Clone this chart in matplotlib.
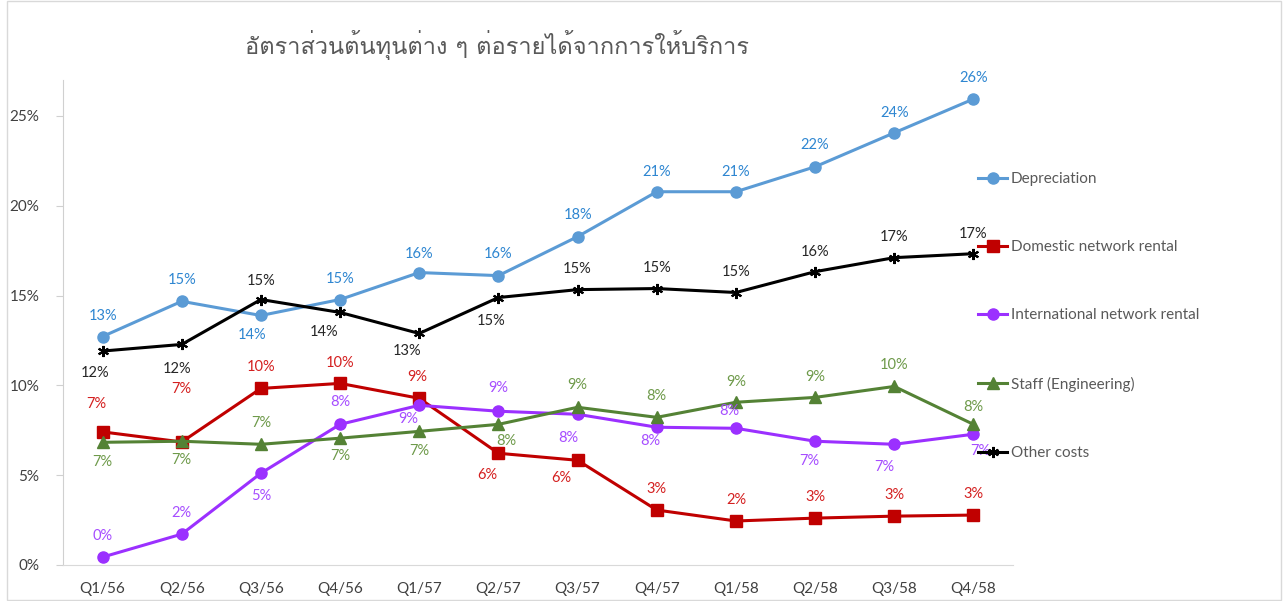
import matplotlib
matplotlib.use("Agg")
import matplotlib.pyplot as plt
from matplotlib import font_manager
from matplotlib.ft2font import FT2Font
from matplotlib.patches import Rectangle


def find_thai_font():
    for f in font_manager.fontManager.ttflist:
        try:
            cmap = FT2Font(f.fname).get_charmap()
        except Exception:
            continue
        if 0x0E2D in cmap and 0x0E15 in cmap:
            return f.name
    return "DejaVu Sans"


quarters = ["Q1/56", "Q2/56", "Q3/56", "Q4/56", "Q1/57", "Q2/57",
            "Q3/57", "Q4/57", "Q1/58", "Q2/58", "Q3/58", "Q4/58"]

depreciation = [12.72, 14.68, 13.89, 14.78, 16.28, 16.11, 18.28, 20.78, 20.78, 22.17, 24.06, 25.94]
domestic = [7.41, 6.85, 9.83, 10.11, 9.28, 6.22, 5.83, 3.06, 2.45, 2.61, 2.72, 2.78]
international = [0.44, 1.72, 5.11, 7.83, 8.89, 8.56, 8.39, 7.67, 7.61, 6.89, 6.72, 7.28]
staff = [6.83, 6.89, 6.72, 7.06, 7.44, 7.83, 8.78, 8.22, 9.06, 9.33, 9.94, 7.83]
other = [11.91, 12.28, 14.78, 14.06, 12.89, 14.89, 15.33, 15.39, 15.17, 16.33, 17.11, 17.33]

title = "อัตราส่วนต้นทุนต่าง ๆ ต่อรายได้จากการให้บริการ"

# label offsets in pixels (dx, dy), dy positive = above the point
lab_dep = [(0, 21), (0, 21), (-9, -20), (0, 21), (0, 19), (0, 22), (0, 22), (0, 20), (0, 20), (0, 22), (0, 20), (0, 21)]
lab_dom = [(-6, 28), (0, 53), (0, 21), (0, 20), (-2, 21), (-11, -22), (-16, -18), (0, 21), (0, 21), (0, 21), (0, 21), (0, 21)]
lab_int = [(0, 21), (0, 21), (0, -23), (0, 22), (-11, -14), (0, 23), (-9, -24), (-6, -14), (-7, 17), (-6, -20), (-10, -23), (7, -17)]
lab_stf = [(0, -20), (0, -19), (0, 21), (0, -18), (0, -20), (8, -17), (0, 22), (0, 21), (0, 20), (0, 20), (0, 21), (0, 17)]
lab_oth = [(-8, -22), (-5, -25), (0, 19), (-16, -20), (-12, -18), (-7, -23), (0, 21), (0, 21), (0, 21), (0, 20), (0, 21), (0, 20)]

series = [
    ("Depreciation", depreciation, "#5B9BD5", "#2E86D1", "o", 8, lab_dep),
    ("Domestic network rental", domestic, "#C00000", "#D42020", "s", 8, lab_dom),
    ("International network rental", international, "#9B30FF", "#A64DFF", "o", 8, lab_int),
    ("Staff (Engineering)", staff, "#548235", "#6E9A4A", "^", 8, lab_stf),
    ("Other costs", other, "#000000", "#262626", (6, 2, 0), 8, lab_oth),
]

thai = find_thai_font()
plt.rcParams["font.family"] = ["Lato", "DejaVu Sans"]

fig = plt.figure(figsize=(12.84, 6.01), dpi=100)
ax = fig.add_axes([63 / 1284, 1 - 565 / 601, (1013 - 63) / 1284, (565 - 80) / 601])

x = list(range(len(quarters)))
px = 72 / 100
for name, vals, col, lcol, mk, ms, offs in series:
    y = [v / 100 for v in vals]
    ax.plot(x, y, color=col, lw=2.2, marker=mk, markersize=ms,
            markeredgewidth=1.5 if mk == (6, 2, 0) else 1, label=name, zorder=3)
    for xi, yi, v, (dx, dy) in zip(x, y, vals, offs):
        ax.annotate("%d%%" % round(v), (xi, yi), xytext=(dx * px, dy * px),
                    textcoords="offset points", ha="center", va="center",
                    fontsize=10.5, color=lcol, zorder=4)

ax.set_xlim(-0.5, 11.5)
ax.set_ylim(0, 0.27)
ax.set_xticks(x)
ax.set_xticklabels(quarters)
ax.set_yticks([0, 0.05, 0.10, 0.15, 0.20, 0.25])
ax.set_yticklabels(["0%", "5%", "10%", "15%", "20%", "25%"])
ax.tick_params(axis="x", length=0, labelsize=11, labelcolor="#404040", pad=12)
ax.tick_params(axis="y", length=5, color="#d0d0d0", labelsize=11, labelcolor="#404040", pad=12)
for s in ["top", "right"]:
    ax.spines[s].set_visible(False)
ax.spines["left"].set_color("#d0d0d0")
ax.spines["bottom"].set_color("#d9d9d9")

fig.text(497 / 1284, 1 - 45 / 601, title, ha="center", va="center",
         fontsize=17, color="#595959", family=[thai, "DejaVu Sans"])

leg = fig.legend(loc="upper left", bbox_to_anchor=(978 / 1284, 1 - 172 / 601),
                 frameon=False, fontsize=11, labelspacing=3.55, handlelength=1.9,
                 handletextpad=0.25, borderpad=0, borderaxespad=0)
for t in leg.get_texts():
    t.set_color("#595959")

fig.patches.append(Rectangle((7 / 1284, 0.002), 1274 / 1284, 0.996, transform=fig.transFigure,
                             fill=False, edgecolor="#d9d9d9", lw=1))

fig.savefig("out.png", dpi=100)
